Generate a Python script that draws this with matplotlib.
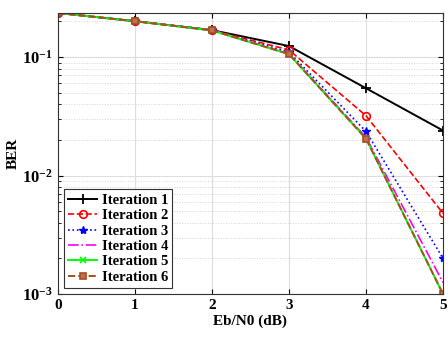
import numpy as np
import matplotlib
matplotlib.use('Agg')
import matplotlib.pyplot as plt

plt.rcParams['font.family'] = ['Liberation Serif', 'DejaVu Serif']
plt.rcParams['mathtext.fontset'] = 'custom'
plt.rcParams['mathtext.rm'] = 'Liberation Serif:bold'
plt.rcParams['mathtext.it'] = 'Liberation Serif:bold'
plt.rcParams['mathtext.bf'] = 'Liberation Serif:bold'

ebn0 = [0, 1, 2, 3, 4, 5]
iter1 = [0.236, 0.201, 0.169, 0.124, 0.0546, 0.0240]
iter2 = [0.236, 0.201, 0.169, 0.115, 0.0320, 0.0048]
iter3 = [0.236, 0.201, 0.169, 0.110, 0.0236, 0.0020]
iter4 = [0.236, 0.201, 0.169, 0.107, 0.0210, 0.00125]
iter5 = [0.236, 0.201, 0.168, 0.106, 0.0205, 0.0010]
iter6 = [0.236, 0.201, 0.168, 0.106, 0.0205, 0.0010]

fig = plt.figure(figsize=(4.48, 3.4), dpi=100)
ax = fig.add_axes([0.129, 0.135, 0.860, 0.827])

ax.semilogy(ebn0, iter1, '-', color='k', marker='+', ms=7, mew=1.3, lw=1.4, label='Iteration 1')
ax.semilogy(ebn0, iter2, '--', color='#FF0000', marker='o', ms=5.5, mfc='none', mew=1.2, lw=1.2, label='Iteration 2')
ax.semilogy(ebn0, iter3, ':', color='#0000FF', marker='*', ms=6, lw=1.2, label='Iteration 3')
ax.semilogy(ebn0, iter4, '-.', color='#FF00FF', lw=1.2, label='Iteration 4')
ax.semilogy(ebn0, iter5, '-', color='#00FF00', marker='x', ms=4, mew=1.2, lw=1.4, label='Iteration 5')
ax.semilogy(ebn0, iter6, '--', color='#A5501E', marker='s', ms=4.5, mfc='#C07050', mew=1.2, lw=1.4, label='Iteration 6')

ax.set_xlim(0, 5)
ax.set_ylim(1e-3, 0.236)
ax.set_xticks(ebn0)
ax.tick_params(which='both', direction='in', top=True, right=True, labelsize=11)
ax.tick_params(axis='y', which='major', labelsize=12)
for lab in ax.get_xticklabels() + ax.get_yticklabels():
    lab.set_fontweight('bold')
ax.grid(True, which='major', color='#DDDDDD', lw=0.8)
ax.grid(True, which='minor', color='#D5D5D5', lw=0.7, ls=':')
ax.set_axisbelow(True)
for s in ax.spines.values():
    s.set_color('#333333')

ax.set_xlabel('Eb/N0 (dB)', fontsize=11, fontweight='bold', labelpad=2)
ax.set_ylabel('BER', fontsize=11, fontweight='bold', labelpad=2)

leg = ax.legend(loc='lower left', fancybox=False, edgecolor='#333333', framealpha=1,
                prop={'weight': 'bold', 'size': 10.5}, handlelength=2.0,
                handletextpad=0.3, borderpad=0.3, labelspacing=0.15,
                borderaxespad=0.4)
leg.get_frame().set_linewidth(0.8)

fig.savefig('out.png', dpi=100)
